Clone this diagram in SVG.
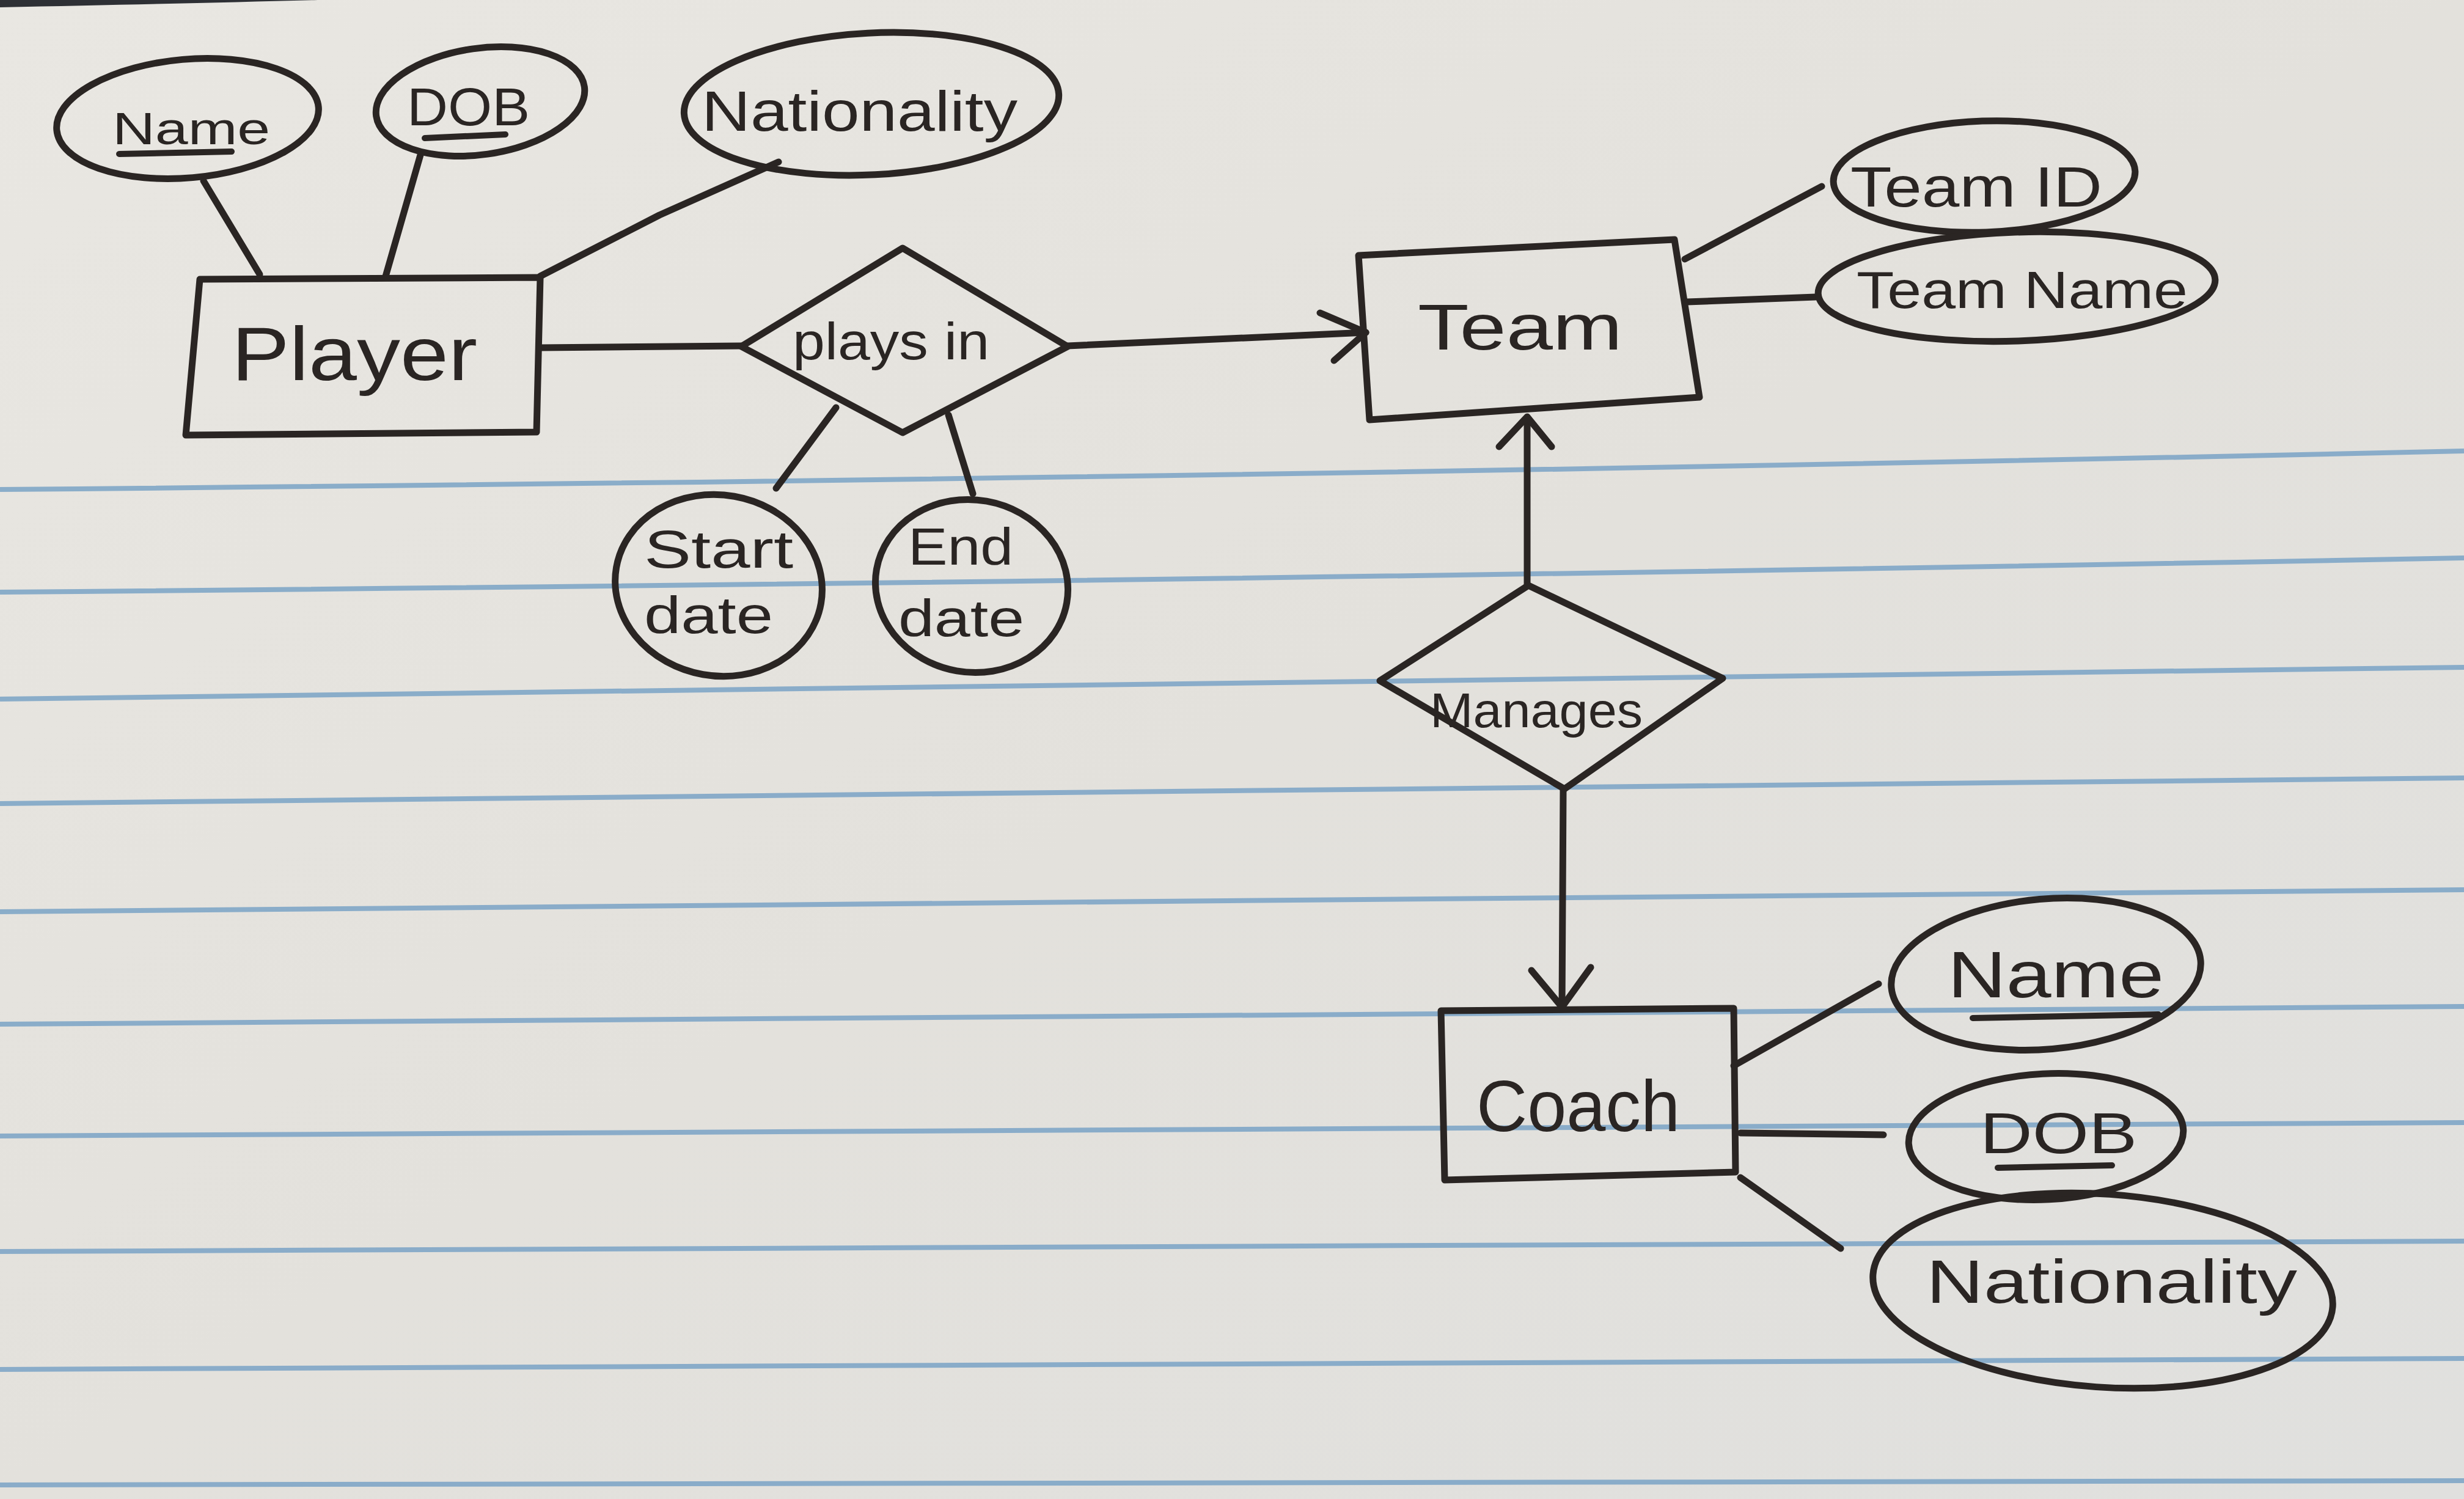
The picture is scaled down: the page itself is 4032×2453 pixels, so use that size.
<svg xmlns="http://www.w3.org/2000/svg" width="4032" height="2453" viewBox="0 0 4032 2453">
<defs>
<linearGradient id="paper" x1="0" y1="0" x2="1" y2="1">
<stop offset="0" stop-color="#e9e7e2"/>
<stop offset="0.5" stop-color="#e3e1dc"/>
<stop offset="1" stop-color="#e0e0de"/>
</linearGradient>
<style>
.ink{fill:none;stroke:#2a2523;stroke-width:11;stroke-linejoin:round;stroke-linecap:round}
.rule{fill:none;stroke:#7fa6c6;stroke-width:8;opacity:0.9}
.t{fill:#2a2523;font-family:"Liberation Sans","DejaVu Sans",sans-serif;text-anchor:start}
.ul{stroke:#2a2523;stroke-width:10;stroke-linecap:round}
</style>
</defs>
<rect x="0" y="0" width="4032" height="2453" fill="url(#paper)"/>
<path d="M0,0 L520,0 Q300,6 0,12 Z" fill="#2e3035"/>
<g id="ruled-lines">
<path class="rule" d="M0,801 Q2050,783 4032,738"/>
<path class="rule" d="M0,969 Q2050,951 4032,913"/>
<path class="rule" d="M0,1144 Q2050,1124 4032,1092"/>
<path class="rule" d="M0,1315 Q2050,1297 4032,1273"/>
<path class="rule" d="M0,1492 Q2050,1475 4032,1456"/>
<path class="rule" d="M0,1676 Q2050,1660 4032,1647"/>
<path class="rule" d="M0,1859 Q2050,1843 4032,1837"/>
<path class="rule" d="M0,2048 Q2050,2036 4032,2031"/>
<path class="rule" d="M0,2241 Q2050,2229 4032,2223"/>
<path class="rule" d="M0,2430 Q2050,2424 4032,2423"/>
</g>
<g id="connectors">
<line class="ink" x1="425" y1="449" x2="333" y2="296"/>
<line class="ink" x1="631" y1="452" x2="689" y2="250"/>
<polyline class="ink" points="884,452 1079,352 1274,265"/>
<line class="ink" x1="884" y1="569" x2="1213" y2="566"/>
<line class="ink" x1="1747" y1="566" x2="2235" y2="544"/>
<polyline class="ink" points="2160,512 2235,544 2183,590"/>
<line class="ink" x1="1368" y1="667" x2="1270" y2="799"/>
<line class="ink" x1="1552" y1="679" x2="1592" y2="808"/>
<line class="ink" x1="2757" y1="424" x2="2981" y2="305"/>
<line class="ink" x1="2761" y1="494" x2="2971" y2="486"/>
<line class="ink" x1="2499" y1="958" x2="2499" y2="684"/>
<polyline class="ink" points="2453,731 2499,682 2539,731"/>
<line class="ink" x1="2558" y1="1291" x2="2556" y2="1648"/>
<polyline class="ink" points="2506,1588 2556,1648 2603,1583"/>
<line class="ink" x1="2837" y1="1744" x2="3074" y2="1610"/>
<line class="ink" x1="2848" y1="1854" x2="3082" y2="1857"/>
<line class="ink" x1="2848" y1="1927" x2="3012" y2="2043"/>
</g>
<g id="player">
<polygon class="ink" points="327,457 884,454 878,707 304,712"/>
<text class="t" x="379" y="622" font-size="125" textLength="402" lengthAdjust="spacingAndGlyphs">Player</text>
</g>
<g id="player-name">
<ellipse class="ink" cx="307" cy="194" rx="215" ry="97" transform="rotate(-5 307 194)"/>
<text class="t" x="184" y="236" font-size="75" textLength="258" lengthAdjust="spacingAndGlyphs">Name</text>
<line class="ul" x1="195" y1="252" x2="379" y2="248"/>
</g>
<g id="player-dob">
<ellipse class="ink" cx="786" cy="166" rx="172" ry="87" transform="rotate(-8 786 166)"/>
<text class="t" x="666" y="205" font-size="88" textLength="201" lengthAdjust="spacingAndGlyphs">DOB</text>
<line class="ul" x1="695" y1="226" x2="827" y2="220"/>
</g>
<g id="player-nationality">
<ellipse class="ink" cx="1426" cy="170" rx="307" ry="116" transform="rotate(-3 1426 170)"/>
<text class="t" x="1148" y="214" font-size="92" textLength="517" lengthAdjust="spacingAndGlyphs">Nationality</text>
</g>
<g id="plays-in">
<polygon class="ink" points="1477,406 1747,567 1477,708 1213,567"/>
<text class="t" x="1297" y="588" font-size="85" textLength="322" lengthAdjust="spacingAndGlyphs">plays in</text>
</g>
<g id="start-date">
<ellipse class="ink" cx="1176" cy="958" rx="170" ry="148" transform="rotate(10 1176 958)"/>
<text class="t" x="1054" y="929" font-size="88" textLength="244" lengthAdjust="spacingAndGlyphs">Start</text>
<text class="t" x="1054" y="1036" font-size="85" textLength="211" lengthAdjust="spacingAndGlyphs">date</text>
</g>
<g id="end-date">
<ellipse class="ink" cx="1590" cy="959" rx="158" ry="141" transform="rotate(10 1590 959)"/>
<text class="t" x="1486" y="924" font-size="85" textLength="172" lengthAdjust="spacingAndGlyphs">End</text>
<text class="t" x="1470" y="1041" font-size="85" textLength="206" lengthAdjust="spacingAndGlyphs">date</text>
</g>
<g id="team">
<polygon class="ink" points="2223,418 2740,392 2781,650 2241,687"/>
<text class="t" x="2320" y="572" font-size="105" textLength="335" lengthAdjust="spacingAndGlyphs">Team</text>
</g>
<g id="team-id">
<ellipse class="ink" cx="3247" cy="289" rx="247" ry="91" transform="rotate(-2 3247 289)"/>
<text class="t" x="3028" y="338" font-size="92" textLength="412" lengthAdjust="spacingAndGlyphs">Team ID</text>
</g>
<g id="team-name">
<ellipse class="ink" cx="3300" cy="469" rx="325" ry="89" transform="rotate(-2 3300 469)"/>
<text class="t" x="3038" y="504" font-size="85" textLength="542" lengthAdjust="spacingAndGlyphs">Team Name</text>
</g>
<g id="manages">
<polygon class="ink" points="2501,958 2819,1110 2560,1291 2258,1114"/>
<text class="t" x="2340" y="1190" font-size="80" textLength="348" lengthAdjust="spacingAndGlyphs">Manages</text>
</g>
<g id="coach">
<polygon class="ink" points="2358,1654 2837,1650 2840,1918 2364,1931"/>
<text class="t" x="2416" y="1851" font-size="118" textLength="333" lengthAdjust="spacingAndGlyphs">Coach</text>
</g>
<g id="coach-name">
<ellipse class="ink" cx="3348" cy="1594" rx="254" ry="123" transform="rotate(-5 3348 1594)"/>
<text class="t" x="3187" y="1632" font-size="108" textLength="354" lengthAdjust="spacingAndGlyphs">Name</text>
<line class="ul" x1="3228" y1="1666" x2="3532" y2="1660"/>
</g>
<g id="coach-dob">
<ellipse class="ink" cx="3348" cy="1860" rx="225" ry="103" transform="rotate(-3 3348 1860)"/>
<text class="t" x="3240" y="1887" font-size="94" textLength="257" lengthAdjust="spacingAndGlyphs">DOB</text>
<line class="ul" x1="3269" y1="1911" x2="3456" y2="1907"/>
</g>
<g id="coach-nationality">
<ellipse class="ink" cx="3441" cy="2112" rx="377" ry="158" transform="rotate(4 3441 2112)"/>
<text class="t" x="3152" y="2132" font-size="100" textLength="607" lengthAdjust="spacingAndGlyphs">Nationality</text>
</g>
</svg>
